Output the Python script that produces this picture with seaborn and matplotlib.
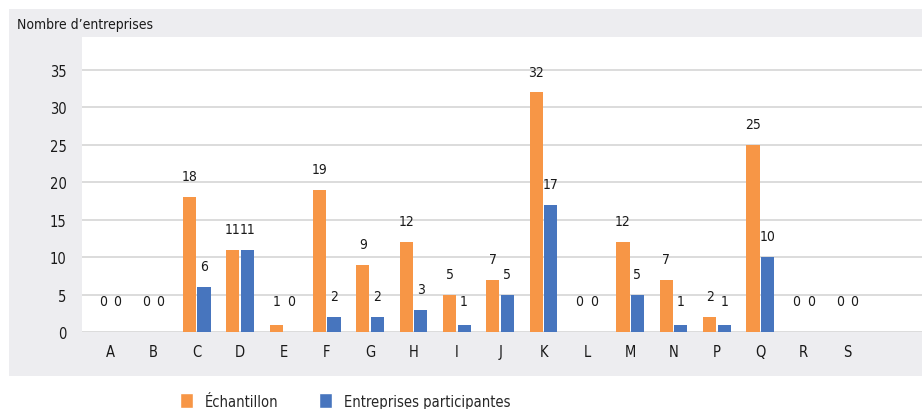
import pandas as pd
import matplotlib.pyplot as plt
from matplotlib.patches import Rectangle
import seaborn as sns

# secteurs d'activite
secteurs = ["A", "B", "C", "D", "E", "F", "G", "H", "I", "J", "K", "L", "M", "N", "P", "Q", "R", "S"]
echantillon = [0, 0, 18, 11, 1, 19, 9, 12, 5, 7, 32, 0, 12, 7, 2, 25, 0, 0]
participantes = [0, 0, 6, 11, 0, 2, 2, 3, 1, 5, 17, 0, 5, 1, 1, 10, 0, 0]
series = ["Échantillon", "Entreprises participantes"]

orange = "#F79646"
bleu = "#4775BE"

df = pd.DataFrame({
    "secteur": secteurs * 2,
    "n": echantillon + participantes,
    "serie": [series[0]] * len(secteurs) + [series[1]] * len(secteurs),
})

sns.set_style("white")
plt.rcParams["font.family"] = ["DejaVu Sans"]
plt.rcParams["font.stretch"] = "condensed"

fig = plt.figure(figsize=(9.22, 4.10), dpi=100)
# fond gris du cadre
fig.patches.append(Rectangle((9 / 922, 33 / 410), 913 / 922, 367 / 410,
                             transform=fig.transFigure, facecolor="#EDEDF0",
                             edgecolor="none", zorder=-5))
ax = fig.add_axes([82 / 922, 77 / 410, 840 / 922, 295 / 410])
ax.set_facecolor("white")

sns.barplot(data=df, x="secteur", y="n", hue="serie", order=secteurs,
            hue_order=series, palette=[orange, bleu], width=0.67, gap=0.1,
            saturation=1, linewidth=0, ax=ax, legend=False)

ax.set_xlim(-0.646, 18.73)
ax.set_ylim(0, 39.4)
ax.set_yticks(range(0, 36, 5))
ax.yaxis.grid(True, color="#D9D9D9", linewidth=1.3)
ax.set_axisbelow(True)
for s in ax.spines.values():
    s.set_visible(False)
ax.tick_params(axis="both", length=0, labelsize=10.5, colors="#1a1a1a")
ax.tick_params(axis="y", pad=11)
ax.tick_params(axis="x", pad=9)
ax.set_xlabel("")
ax.set_ylabel("")

# etiquettes de valeurs
for cont in ax.containers:
    for bar in cont:
        h = bar.get_height()
        ax.annotate(f"{h:.0f}", (bar.get_x() + bar.get_width() / 2, max(h, 1.3)),
                    xytext=(0, 15), textcoords="offset points", ha="center",
                    va="center", fontsize=10, color="#1a1a1a")

fig.text(17 / 922, 1 - 25 / 410, "Nombre d\u2019entreprises", fontsize=10,
         va="center", ha="left", color="#1a1a1a")

handles = [Rectangle((0, 0), 1, 1, facecolor=orange),
           Rectangle((0, 0), 1, 1, facecolor=bleu)]
fig.legend(handles, series, loc="center left", bbox_to_anchor=(174 / 922, 1 - 402 / 410),
           ncol=2, frameon=False, fontsize=10.5, handlelength=0.9, handleheight=1.2,
           handletextpad=0.8, columnspacing=2.8, borderaxespad=0)

fig.savefig("out.png", dpi=100)
